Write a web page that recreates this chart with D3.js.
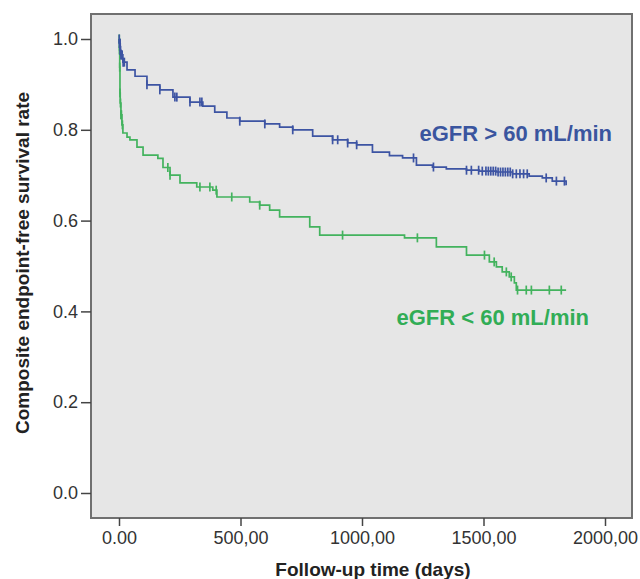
<!DOCTYPE html>
<html>
<head>
<meta charset="utf-8">
<script src="https://cdn.jsdelivr.net/npm/d3@7"></script>
<style>
  body { margin: 0; background: #fff; }
  text { font-family: "Liberation Sans", Arial, sans-serif; }
</style>
</head>
<body>
<div class="chart"></div>
<script>
// Kaplan-Meier curves, composite endpoint-free survival by eGFR

var svgWidth = 640;
var svgHeight = 579;

// eGFR > 60 group: event times (days) and survival after each step
var blueTime = [0, 2, 5, 8, 16, 33, 66, 115, 168, 222, 292, 345, 394, 444, 497, 600, 661, 715, 797, 879, 941, 978, 1043, 1113, 1167, 1224, 1290, 1347, 1430, 1483, 1553, 1619, 1688, 1742, 1783, 1840];
var blueSurv = [1.0, 0.99, 0.975, 0.965, 0.949, 0.932, 0.918, 0.899, 0.888, 0.872, 0.861, 0.852, 0.839, 0.826, 0.819, 0.813, 0.806, 0.800, 0.786, 0.778, 0.771, 0.767, 0.751, 0.743, 0.738, 0.722, 0.718, 0.714, 0.711, 0.709, 0.707, 0.703, 0.698, 0.694, 0.687, 0.678];
var blueCensor = [1, 2, 3, 4, 5, 6, 8, 10, 13, 17, 22, 115, 168, 230, 238, 292, 333, 341, 497, 600, 715, 879, 900, 941, 978, 1212, 1294, 1430, 1450, 1480, 1495, 1510, 1520, 1530, 1540, 1550, 1560, 1570, 1580, 1590, 1600, 1610, 1620, 1635, 1650, 1665, 1680, 1758, 1800, 1833];

// eGFR < 60 group
var greenTime = [0, 2, 3, 4, 5, 8, 12, 16, 33, 45, 74, 99, 160, 181, 210, 251, 320, 386, 403, 538, 579, 620, 661, 785, 826, 1175, 1306, 1430, 1524, 1553, 1577, 1606, 1627, 1635, 1840];
var greenSurv = [1.0, 0.976, 0.938, 0.881, 0.859, 0.833, 0.811, 0.793, 0.784, 0.778, 0.762, 0.744, 0.737, 0.717, 0.700, 0.683, 0.674, 0.667, 0.652, 0.641, 0.634, 0.623, 0.608, 0.586, 0.568, 0.562, 0.542, 0.524, 0.509, 0.498, 0.487, 0.476, 0.463, 0.447, 0.447];
var greenCensor = [1, 2, 3, 4, 6, 8, 10, 14, 201, 210, 333, 374, 400, 464, 579, 920, 1228, 1504, 1544, 1594, 1614, 1640, 1676, 1697, 1771, 1820];

// tick values and labels
var xTicks = [0, 500, 1000, 1500, 2000];
var xTickLabels = ["0.00", "500,00", "1000,00", "1500,00", "2000,00"];
var yTicks = [0, 0.2, 0.4, 0.6, 0.8, 1.0];
var yTickLabels = ["0.0", "0.2", "0.4", "0.6", "0.8", "1.0"];

var groups = [
  { name: "eGFR > 60 mL/min", time: blueTime, surv: blueSurv, censor: blueCensor, line: "#3d54a3", label: "#3a559f" },
  { name: "eGFR < 60 mL/min", time: greenTime, surv: greenSurv, censor: greenCensor, line: "#43b35e", label: "#31ad56" }
];

// plot frame (padded beyond the data range)
var box = { left: 91, top: 14, right: 632, bottom: 518 };

var x = d3.scaleLinear().domain([0, 2000]).range([119, 605]);
var y = d3.scaleLinear().domain([0, 1]).range([493, 39]);

var svg = d3.select(".chart")
  .append("svg")
  .attr("width", svgWidth)
  .attr("height", svgHeight);

svg.append("rect")
  .attr("x", box.left)
  .attr("y", box.top)
  .attr("width", box.right - box.left)
  .attr("height", box.bottom - box.top)
  .attr("fill", "#e6e6e6");

// step curves
var line = d3.line()
  .x(d => x(d[0]))
  .y(d => y(d[1]))
  .curve(d3.curveStepAfter);

function survAt(g, t) {
  var s = g.surv[0];
  for (var i = 0; i < g.time.length; i++) {
    if (g.time[i] <= t) s = g.surv[i];
  }
  return s;
}

groups.slice().reverse().forEach(function(g) {
  var pts = g.time.map((t, i) => [t, g.surv[i]]);
  svg.append("path")
    .attr("d", line(pts))
    .attr("fill", "none")
    .attr("stroke", g.line)
    .attr("stroke-width", 1.7);

  svg.append("g").selectAll("line")
    .data(g.censor)
    .enter()
    .append("line")
    .attr("x1", d => x(d))
    .attr("x2", d => x(d))
    .attr("y1", d => y(survAt(g, d)) - 4.5)
    .attr("y2", d => y(survAt(g, d)) + 4.5)
    .attr("stroke", g.line)
    .attr("stroke-width", 1.7);
});

// frame border
svg.append("rect")
  .attr("x", box.left)
  .attr("y", box.top)
  .attr("width", box.right - box.left)
  .attr("height", box.bottom - box.top)
  .attr("fill", "none")
  .attr("stroke", "#707070")
  .attr("stroke-width", 2);

// axes
var bottomAxis = d3.axisBottom(x)
  .tickValues(xTicks)
  .tickFormat((d, i) => xTickLabels[i])
  .tickSize(8)
  .tickPadding(5);

var leftAxis = d3.axisLeft(y)
  .tickValues(yTicks)
  .tickFormat((d, i) => yTickLabels[i])
  .tickSize(10)
  .tickPadding(3);

var gx = svg.append("g")
  .attr("transform", `translate(0, ${box.bottom})`)
  .call(bottomAxis);

var gy = svg.append("g")
  .attr("transform", `translate(${box.left}, 0)`)
  .call(leftAxis);

[gx, gy].forEach(function(g) {
  g.select(".domain").remove();
  g.selectAll(".tick line").attr("stroke", "#444").attr("stroke-width", 1.5);
  g.selectAll(".tick text")
    .attr("font-size", 18)
    .attr("fill", "#333")
    .style("font-family", "'Liberation Sans', Arial, sans-serif");
});

// group labels
svg.append("text")
  .attr("x", 612)
  .attr("y", 141)
  .attr("text-anchor", "end")
  .attr("font-size", 22)
  .attr("font-weight", "bold")
  .attr("fill", groups[0].label)
  .text(groups[0].name);

svg.append("text")
  .attr("x", 589)
  .attr("y", 325)
  .attr("text-anchor", "end")
  .attr("font-size", 22)
  .attr("font-weight", "bold")
  .attr("fill", groups[1].label)
  .text(groups[1].name);

// axis titles
svg.append("text")
  .attr("x", 373)
  .attr("y", 576)
  .attr("text-anchor", "middle")
  .attr("font-size", 19)
  .attr("font-weight", "bold")
  .attr("fill", "#222")
  .text("Follow-up time (days)");

svg.append("text")
  .attr("transform", "translate(29, 263) rotate(-90)")
  .attr("text-anchor", "middle")
  .attr("font-size", 19)
  .attr("font-weight", "bold")
  .attr("fill", "#222")
  .text("Composite endpoint-free survival rate");
</script>
</body>
</html>
